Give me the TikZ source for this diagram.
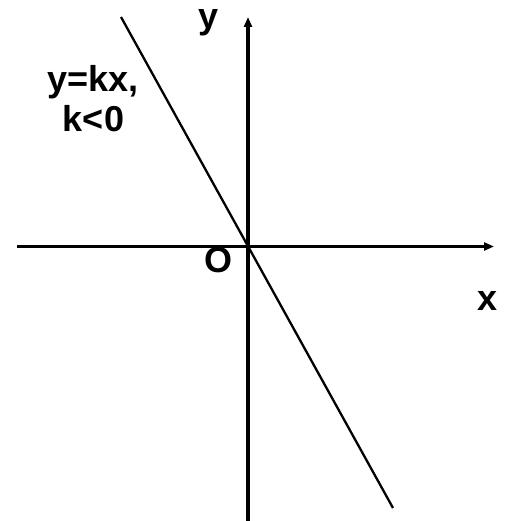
\documentclass[tikz,border=0pt]{standalone}
\usepackage{fontspec}
\setmainfont{Liberation Sans}
\usetikzlibrary{arrows.meta}
\tikzset{
  axis/.style={line width=3.2pt, -{Triangle[length=10pt,width=8pt]}},
  graphline/.style={line width=2.3pt},
  lbl/.style={font=\fontsize{36}{38}\selectfont\bfseries, inner sep=0pt, anchor=base}
}
\begin{document}
\begin{tikzpicture}[x=1pt,y=-1pt]
\useasboundingbox (0,0) rectangle (504,521);
\coordinate (xl) at (17,246.5);
\coordinate (xr) at (494,246.5);
\coordinate (yb) at (248,521);
\coordinate (yt) at (248,17);
\coordinate (o) at (248,246.5);
\coordinate (la) at (121,17);
\coordinate (lb) at (393,508);
\draw[axis] (xl) -- (xr);
\draw[axis] (yb) -- (yt);
\draw[graphline] (la) -- (lb);
\node[lbl] (ylab) at (209,29) {y};
\node[lbl] (xlab) at (488,310) {x};
\node[lbl] (olab) at (218.5,272) {O};
\node[lbl] (eqa) at (93,92) {y=kx,};
\node[lbl] (eqb) at (93.5,132) {k<0};
\end{tikzpicture}
\end{document}
